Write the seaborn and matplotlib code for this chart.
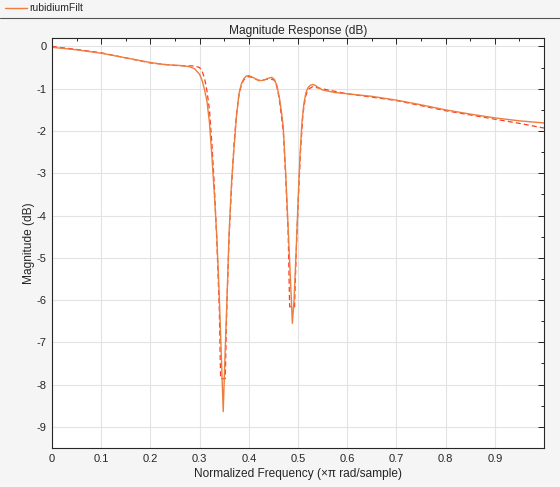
import numpy as np
import pandas as pd
import matplotlib
matplotlib.use("Agg")
import matplotlib.pyplot as plt
from matplotlib.lines import Line2D
from matplotlib.ticker import MultipleLocator
import seaborn as sns

# Designed filter response (solid)
freq_filt = [0.00, 0.05, 0.10, 0.15, 0.20, 0.23, 0.26, 0.28, 0.29, 0.30, 0.305, 0.31,
             0.315, 0.32, 0.325, 0.33, 0.335, 0.34, 0.345, 0.348, 0.352, 0.355, 0.36,
             0.365, 0.37, 0.375, 0.38, 0.385, 0.39, 0.395, 0.40, 0.41, 0.42, 0.43, 0.44,
             0.447, 0.452, 0.457, 0.462, 0.467, 0.47, 0.475, 0.48, 0.485, 0.4885, 0.492,
             0.496, 0.50, 0.504, 0.508, 0.512, 0.516, 0.52, 0.525, 0.53, 0.535, 0.54,
             0.55, 0.575, 0.60, 0.65, 0.70, 0.75, 0.80, 0.85, 0.90, 0.95, 0.99, 1.00]
mag_filt = [-0.02, -0.08, -0.16, -0.27, -0.38, -0.43, -0.45, -0.48, -0.53, -0.66, -0.80, -1.02,
            -1.30, -1.80, -2.60, -3.50, -4.50, -5.90, -7.60, -8.64, -7.20, -6.20, -4.40,
            -3.20, -2.40, -1.65, -1.12, -0.88, -0.76, -0.70, -0.69, -0.74, -0.81, -0.80, -0.75,
            -0.73, -0.78, -0.92, -1.20, -1.60, -1.90, -3.00, -4.30, -5.60, -6.55, -6.00,
            -4.90, -3.70, -2.60, -1.80, -1.35, -1.10, -0.98, -0.92, -0.90, -0.92, -0.96,
            -1.03, -1.09, -1.12, -1.18, -1.27, -1.38, -1.50, -1.60, -1.69, -1.76, -1.80, -1.81]

# Reference / specification response (dashed)
freq_ref = [0.00, 0.05, 0.10, 0.15, 0.20, 0.25, 0.28, 0.29, 0.30, 0.305, 0.31, 0.315,
            0.32, 0.325, 0.33, 0.335, 0.34, 0.3427, 0.3522, 0.355, 0.36, 0.365, 0.37,
            0.375, 0.38, 0.385, 0.39, 0.40, 0.41, 0.42, 0.43, 0.44, 0.445, 0.452, 0.457,
            0.462, 0.47, 0.475, 0.48, 0.483, 0.493, 0.496, 0.50, 0.505, 0.51, 0.515, 0.52,
            0.53, 0.54, 0.60, 0.70, 0.80, 0.90, 0.95, 1.00]
mag_ref = [0.00, -0.07, -0.15, -0.27, -0.39, -0.45, -0.46, -0.46, -0.50, -0.58, -0.75, -1.05,
           -1.50, -2.30, -3.30, -4.60, -6.20, -7.86, -7.86, -6.30, -4.50, -3.30, -2.30,
           -1.60, -1.15, -0.90, -0.79, -0.71, -0.75, -0.80, -0.79, -0.77, -0.77, -0.80, -0.95,
           -1.25, -2.00, -3.10, -4.40, -6.16, -6.16, -5.00, -3.80, -2.50, -1.60, -1.20, -1.02,
           -0.95, -0.98, -1.12, -1.28, -1.52, -1.72, -1.82, -1.93]

title_text = "Magnitude Response (dB)"
xlabel_text = "Normalized Frequency (\u00d7\u03c0 rad/sample)"
ylabel_text = "Magnitude (dB)"
legend_text = "rubidiumFilt"

sns.set_theme(style="whitegrid")
plt.rcParams['font.family'] = ['Liberation Sans', 'DejaVu Sans']

df_filt = pd.DataFrame({"f": freq_filt, "m": mag_filt})
df_ref = pd.DataFrame({"f": freq_ref, "m": mag_ref})

fig = plt.figure(figsize=(5.6, 4.87), dpi=100, facecolor="#f5f5f5")
ax = fig.add_axes([52/560, 1-448/487, (544-52)/560, (448-38)/487])
ax.set_facecolor("white")

c_solid = "#ec7f3f"
c_dash = "#ff3b22"
sns.lineplot(data=df_ref, x="f", y="m", ax=ax, sort=False, estimator=None,
             color=c_dash, lw=0.9, linestyle=(0, (4, 2.5)))
sns.lineplot(data=df_filt, x="f", y="m", ax=ax, sort=False, estimator=None,
             color=c_solid, lw=1.0)

ax.set_xlim(0, 1)
ax.set_ylim(-9.5, 0.2)
ax.xaxis.set_major_locator(MultipleLocator(0.1))
ax.xaxis.set_minor_locator(MultipleLocator(0.05))
ax.yaxis.set_major_locator(MultipleLocator(1))
ax.yaxis.set_minor_locator(MultipleLocator(0.5))
xt = np.arange(0, 1.0, 0.1)
ax.set_xticks(xt)
ax.set_xticklabels(["0"] + [f"{v:.1f}" for v in xt[1:]])
ax.set_yticks(np.arange(-9, 1, 1))
ax.set_yticklabels([f"{int(v)}" for v in np.arange(-9, 1, 1)])

ax.grid(True, which="major", color="#e3e3e3", lw=0.8)
ax.grid(False, which="minor")
ax.tick_params(which="both", direction="in", top=True, right=True, colors="#262626",
               labelcolor="#262626", labelsize=8)
ax.tick_params(which="major", length=4, width=0.7, pad=4)
ax.tick_params(which="minor", length=2.5, width=0.7)
for s in ax.spines.values():
    s.set_color("#262626")
    s.set_linewidth(0.8)

ax.set_title(title_text, fontsize=8.6, color="#262626", pad=3)
ax.set_xlabel(xlabel_text, fontsize=8.6, color="#262626", labelpad=3)
ax.set_ylabel(ylabel_text, fontsize=8.6, color="#262626", labelpad=1)

# legend strip at top
fig.add_artist(Line2D([5/560, 27/560], [1-8/487, 1-8/487], color=c_solid, lw=1.0))
fig.text(29/560, 1-8/487, legend_text, fontsize=7.5, va="center", ha="left", color="#262626")
fig.add_artist(Line2D([0, 1], [1-18/487, 1-18/487], color="#555555", lw=0.8))

fig.savefig("out.png", dpi=100, facecolor=fig.get_facecolor())
